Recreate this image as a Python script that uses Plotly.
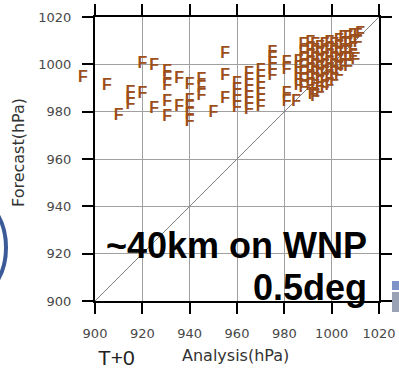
import plotly.graph_objects as go

# Analysis (x) and Forecast (y) pressures in hPa
analysis = [
    895, 905, 910, 915, 915, 915, 920, 920, 925,
    930.5, 930.5, 930.5, 935.5, 940, 945, 945, 945,
    925, 930.5, 930.5, 935.5, 940, 940, 940, 940, 950,
    955, 955, 955,
    960, 960, 960, 960, 960,
    965, 965, 965, 965, 965, 965, 965,
    970, 970, 970, 970, 970, 970, 970,
    975, 975, 975, 975, 975,
    981, 981, 981, 981, 985,
    986, 986, 986, 986, 986, 992,
    988, 988, 988, 988, 988, 988, 988,
    991, 991, 991, 991, 991, 991, 991,
    993, 993, 993, 993, 993, 993, 993, 993,
    995, 995, 995, 995, 995, 995, 995,
    997, 997, 997, 997, 997, 997, 997,
    999, 999, 999, 999, 999, 999, 999,
    1001, 1001, 1001, 1001, 1001, 1001,
    1003, 1003, 1003, 1003, 1003, 1003,
    1005, 1005, 1005, 1005, 1005,
    1007, 1007, 1007, 1007, 1007,
    1009, 1009, 1009, 1009, 1010,
    1011, 1011, 1012,
]
forecast = [
    995, 991, 978, 988, 985.5, 983, 987.5, 1000, 999.3,
    996.7, 993.8, 990.8, 993.8, 991.3, 993.4, 990, 986.6,
    981, 984.1, 977.7, 982, 984.5, 981.5, 978.6, 975.6, 979.5,
    1004.4, 995, 985.5,
    991.7, 989, 986.5, 984, 981.5,
    996, 993.4, 990.8, 988.3, 985.8, 983.2, 980.7,
    997, 994.5, 992, 989.5, 987, 984.5, 982,
    1005, 1002.5, 1000, 997.5, 995,
    1000.6, 997.8, 987.5, 984, 984,
    1001, 998.4, 996, 993.4, 991, 987,
    1008, 1005, 1002, 999, 996, 993, 990,
    1009, 1006, 1003, 1000, 997, 994, 991,
    1008, 1005, 1002, 999, 996, 993, 989, 986,
    1007, 1004, 1001, 998, 995, 992, 988,
    1008, 1005, 1002, 999, 996, 993, 990,
    1009, 1006, 1003, 1000, 997, 994, 991,
    1008, 1005, 1002, 999, 996, 993,
    1010, 1007, 1004, 1001, 998, 995,
    1011, 1008, 1005, 1002, 999,
    1011, 1008, 1005, 1002, 999,
    1012, 1009, 1006, 1003, 1002,
    1012, 1009, 1013,
]

axis_range = [900, 1020]
tick_vals = [900, 920, 940, 960, 980, 1000, 1020]
tick_text = ["900", "920", "940", "960", "980", "1000", "1020"]

marker_color = "#9C4E1B"
marker_font = dict(family="Liberation Sans, Arial, sans-serif", size=16,
                   color=marker_color, weight="bold")

def in_range(v):
    return axis_range[0] <= v <= axis_range[1]

inside = [(a, f) for a, f in zip(analysis, forecast) if in_range(a) and in_range(f)]
outside = [(a, f) for a, f in zip(analysis, forecast) if not (in_range(a) and in_range(f))]

fig = go.Figure()

# 1:1 reference line
fig.add_trace(go.Scatter(
    x=axis_range, y=axis_range, mode="lines",
    line=dict(color="#808080", width=1), hoverinfo="skip", showlegend=False,
))

fig.add_trace(go.Scatter(
    x=[p[0] for p in inside], y=[p[1] for p in inside], mode="text",
    text=["F"] * len(inside), textposition="middle center",
    textfont=marker_font, cliponaxis=False, showlegend=False,
))

axis_common = dict(
    range=axis_range, tickvals=tick_vals, ticktext=tick_text,
    showgrid=True, gridcolor="#A0A0A0", gridwidth=1,
    showline=True, linecolor="black", linewidth=2, mirror="ticks",
    ticks="outside", ticklen=11, tickwidth=1.5, tickcolor="black",
    tickfont=dict(family="DejaVu Sans", size=13, color="#484848"),
    zeroline=False, ticklabelstandoff=8, automargin=False,
)

fig.update_xaxes(**axis_common)
fig.update_yaxes(**axis_common)

def px_x(p):
    return (p - 95) / 284.0

def px_y(p):
    return (301 - p) / 284.0

def to_domain(v):
    # position relative to the axis domain (0 = range start, 1 = range end)
    return (v - axis_range[0]) / (axis_range[1] - axis_range[0])

annotations = [
    dict(text="Analysis(hPa)", x=px_x(235), y=px_y(355), xref="paper", yref="paper",
         showarrow=False, xanchor="center", yanchor="middle",
         font=dict(family="DejaVu Sans", size=16, color="#333")),
    dict(text="Forecast(hPa)", x=px_x(18), y=px_y(152), xref="paper", yref="paper",
         showarrow=False, xanchor="center", yanchor="middle", textangle=-90,
         font=dict(family="DejaVu Sans", size=16, color="#333")),
    dict(text="T+0", x=px_x(116), y=px_y(357), xref="paper", yref="paper",
         showarrow=False, xanchor="center", yanchor="middle",
         font=dict(family="Liberation Sans, Arial", size=21, color="#222")),
    dict(text="<b>~40km on WNP</b>", x=px_x(369), y=px_y(245), xref="paper", yref="paper",
         showarrow=False, xanchor="right", yanchor="middle",
         font=dict(family="Liberation Sans, Arial", size=36, color="black")),
    dict(text="<b>0.5deg</b>", x=px_x(369), y=px_y(287), xref="paper", yref="paper",
         showarrow=False, xanchor="right", yanchor="middle",
         font=dict(family="Liberation Sans, Arial", size=36, color="black")),
]
# points beyond the axis range are still drawn in the reference (outside the frame)
for a, f in outside:
    annotations.append(dict(text="F", x=to_domain(a), y=to_domain(f),
                            xref="x domain", yref="y domain", showarrow=False,
                            xanchor="center", yanchor="middle", font=marker_font))

shapes = [
    dict(type="circle", xref="paper", yref="paper",
         x0=px_x(-70), x1=px_x(6), y0=px_y(300), y1=px_y(195),
         line=dict(color="#3B5A98", width=4), layer="below"),
    dict(type="rect", xref="paper", yref="paper",
         x0=px_x(392), x1=px_x(402), y0=px_y(290), y1=px_y(281),
         fillcolor="#7F93C9", line=dict(width=0), layer="below"),
    dict(type="rect", xref="paper", yref="paper",
         x0=px_x(392), x1=px_x(402), y0=px_y(312), y1=px_y(292),
         fillcolor="#9AA3B5", line=dict(width=0), layer="below"),
]

fig.update_layout(
    width=399, height=371,
    margin=dict(l=95, r=20, t=17, b=70, autoexpand=False),
    paper_bgcolor="white", plot_bgcolor="white",
    annotations=annotations, shapes=shapes,
    showlegend=False,
)

fig.write_html("out.html")
